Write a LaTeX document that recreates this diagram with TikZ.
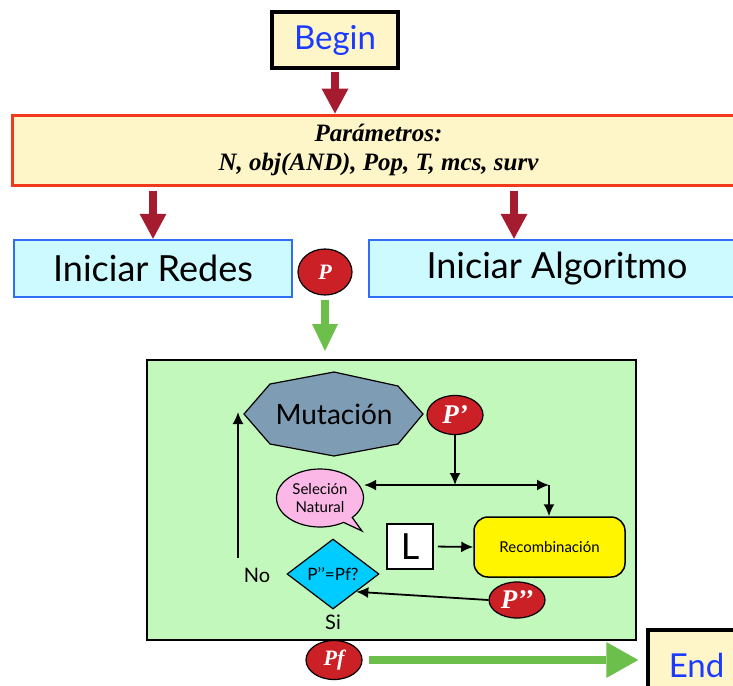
\documentclass[tikz,border=0pt]{standalone}
\usepackage{fontspec}
\setmainfont{Lato}
\newfontfamily\tms{Liberation Serif}
\usetikzlibrary{arrows.meta,shapes.geometric,shapes.callouts}

\definecolor{paleyellow}{HTML}{FEF6C8}
\definecolor{textblue}{HTML}{1A3BFF}
\definecolor{edgeorange}{HTML}{F2391B}
\definecolor{edgeblue}{HTML}{2F6DF6}
\definecolor{palecyan}{HTML}{CCFAFE}
\definecolor{tokenred}{HTML}{CC2027}
\definecolor{arrowred}{HTML}{A51C30}
\definecolor{arrowgreen}{HTML}{6DBF4B}
\definecolor{panelgreen}{HTML}{C3F8BC}
\definecolor{slate}{HTML}{7E9CB4}
\definecolor{pink}{HTML}{FBB8E6}
\definecolor{recoyellow}{HTML}{FFF500}
\definecolor{diacyan}{HTML}{00CCFF}

\begin{document}
\begin{tikzpicture}[x=1pt,y=-1pt,inner sep=1pt,
  endbox/.style={draw=black,line width=3.5pt,fill=paleyellow,text=textblue,font=\fontsize{33}{38}\selectfont,inner sep=0pt},
  parambox/.style={draw=edgeorange,line width=3pt,fill=paleyellow,align=center,font=\tms\bfseries\itshape\fontsize{25}{29}\selectfont},
  initbox/.style={draw=edgeblue,line width=2.5pt,fill=palecyan,minimum height=57pt,font=\fontsize{36}{40}\selectfont},
  token/.style={ellipse,draw=black,line width=1.2pt,fill=tokenred,text=white,inner sep=0pt},
  redarrow/.style={draw=arrowred,line width=8pt,-{Triangle[width=27pt,length=25pt,line width=0pt]}},
  greenarrow/.style={draw=arrowgreen,line width=8pt,-{Triangle[width=26pt,length=27pt,line width=0pt]}},
  flow/.style={-{Latex[length=12pt,width=11pt]},line width=1.8pt},
  small/.style={font=\fontsize{15}{18}\selectfont}]

\clip (0,0) rectangle (733,685);

% top of the flow
\node[endbox,minimum width=126pt,minimum height=56pt] (begin) at (335,40) {Begin};
\node[parambox,minimum width=733pt,minimum height=70pt] (param) at (378.5,150)
  {Parámetros:\\N, obj(AND), Pop, T, mcs, surv};
\node[initbox,minimum width=278pt] (redes) at (153,268.5) {Iniciar Redes};
\node[initbox,minimum width=376pt] (algo) at (557,268.5) {Iniciar Algoritmo};
\node[token,minimum width=54pt,minimum height=46pt,font=\tms\bfseries\itshape\fontsize{22}{24}\selectfont] (p) at (325,272) {P};
\coordinate (algin) at (514,0);

\draw[redarrow,shorten <=2pt] (begin.south) -- (param.north -| begin.south);
\draw[redarrow,shorten <=4pt] (param.south -| redes.north) -- (redes.north);
\draw[redarrow,shorten <=4pt] (param.south -| algin) -- (algo.north -| algin);
\draw[greenarrow,shorten <=4pt,shorten >=9pt] (p.south) -- (p.south |- 0,360);

% genetic loop
\node[draw=black,line width=1.5pt,fill=panelgreen,minimum width=489pt,minimum height=280pt] (panel) at (391.5,500) {};

\draw[fill=slate,line width=1.2pt] (244,414) -- (270,384) -- (334,372) -- (398,386)
  -- (423,414) -- (398,444) -- (334,456) -- (270,444) -- cycle;
\node[font=\fontsize{28}{32}\selectfont] (mut) at (334,414) {Mutación};

\node[token,minimum width=56pt,minimum height=39pt,font=\tms\bfseries\itshape\fontsize{27}{28}\selectfont] (p1) at (455,415) {P’};
\node[ellipse callout,draw=black,line width=1.2pt,fill=pink,minimum width=87pt,minimum height=58pt,
  callout absolute pointer={(362,531)},align=center,small] (sel) at (320,498) {Seleción\\Natural};
\node[draw=black,line width=1.5pt,fill=white,minimum width=46pt,minimum height=45pt,font=\fontsize{36}{40}\selectfont] (lbox) at (410,546.5) {L};
\node[draw=black,line width=1.5pt,fill=recoyellow,rounded corners=14pt,minimum width=151pt,minimum height=60pt,small] (reco) at (549.5,547) {Recombinación};
\node[diamond,draw=black,line width=1.2pt,fill=diacyan,minimum width=92pt,minimum height=70pt,inner sep=0pt,font=\fontsize{17}{20}\selectfont] (dia) at (333,574) {P’’=Pf?};
\node[token,minimum width=56pt,minimum height=36pt,font=\tms\bfseries\itshape\fontsize{27}{28}\selectfont] (p2) at (517,600) {P’’};
\node[font=\fontsize{20}{24}\selectfont] (no) at (257,575) {No};
\node[font=\fontsize{20}{24}\selectfont] (si) at (333,622) {Si};

\coordinate (split) at (455,485);
\coordinate (turn) at (549,485);
\coordinate (loopin) at (238,558);
\coordinate (loopout) at (238,412);

\path[flow]
  (p1.south) edge (split)
  (split) edge (split -| sel.east)
  (split) edge (turn)
  (turn) edge (turn |- reco.north)
  (lbox.east) edge[shorten <=4pt] (reco.west)
  (p2.west) edge (dia.south east)
  (loopin) edge (loopout);

% way out
\node[token,minimum width=56pt,minimum height=39pt,font=\tms\bfseries\itshape\fontsize{22}{24}\selectfont] (pf) at (334,660) {Pf};
\node[endbox,minimum width=97pt,minimum height=70pt] (stop) at (696.5,665) {End};
\draw[draw=arrowgreen,line width=8pt,-{Triangle[width=36pt,length=32pt,line width=0pt]},shorten <=6pt,shorten >=8pt] (pf.east) -- (pf.east -| stop.west);

\end{tikzpicture}
\end{document}
